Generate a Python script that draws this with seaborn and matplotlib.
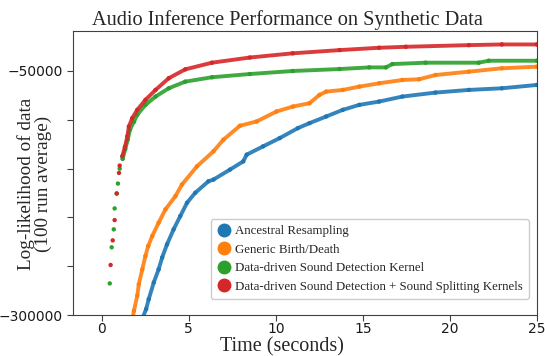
import numpy as np
import pandas as pd
import matplotlib
matplotlib.use("Agg")
import matplotlib.pyplot as plt
import seaborn as sns


# values (time in seconds, log-likelihood)
anc_t = [1.75, 2.55, 2.70, 2.99, 3.27, 3.47, 3.75, 4.13, 4.51, 4.90, 5.37, 6.13, 6.42,
         7.37, 8.13, 8.33, 9.27, 10.23, 11.27, 11.94, 12.90, 13.85, 14.80, 15.94,
         17.27, 19.18, 21.09, 22.99, 25.0]
anc_ll = [-330000, -293900, -283700, -266600, -253100, -241100, -227600, -212200,
          -198700, -185000, -174800, -163000, -161200, -151000, -142600, -135700,
          -127200, -118700, -108500, -103400, -96600, -89800, -84700, -81300,
          -76200, -72100, -69400, -67700, -64300]

bd_t = [1.50, 1.85, 2.04, 2.13, 2.33, 2.51, 2.67, 2.90, 3.27, 3.66, 4.23, 4.61, 5.47,
        6.42, 6.99, 7.94, 8.90, 10.04, 10.99, 11.94, 12.51, 12.90, 13.85, 14.80,
        15.94, 17.27, 18.23, 19.18, 21.09, 22.99, 25.0]
bd_ll = [-330000, -295600, -280300, -268400, -253100, -239500, -229300, -219100,
         -205400, -191800, -178300, -166300, -147700, -132300, -120400, -106100,
         -101700, -91500, -86400, -83000, -74500, -71100, -69400, -66000, -62600,
         -59200, -58500, -54100, -50700, -47200, -45600]

sd_t = [0.46, 0.57, 0.69, 0.74, 0.86, 0.93, 1.03, 1.20, 1.35, 1.50, 1.62, 1.85, 2.04,
        2.51, 3.09, 3.85, 4.80, 6.33, 8.51, 10.97, 13.66, 15.37, 16.33, 16.70,
        18.61, 21.66, 22.23, 25.0]
sd_ll = [-267600, -230600, -212200, -190800, -175500, -165300, -150000, -140000,
         -130000, -120000, -110000, -102000, -94900, -84700, -76200, -67700,
         -60900, -56400, -53100, -50000, -48000, -46300, -46300, -42900, -41500,
         -41500, -39500, -39500]

split_t = [0.51, 0.63, 0.74, 0.86, 0.99, 1.03, 1.18, 1.33, 1.47, 1.56, 1.75, 2.04,
           2.51, 3.09, 3.85, 4.80, 6.33, 8.51, 10.97, 13.66, 15.94, 17.47, 21.09,
           22.99, 25.0]
split_ll = [-248700, -223500, -202700, -175500, -154400, -146900, -137400, -127900,
            -117000, -106800, -98300, -89800, -79600, -69400, -57400, -48300, -41500,
            -36200, -31900, -28600, -26200, -25200, -23500, -22800, -22800]

labels = ["Ancestral Resampling", "Generic Birth/Death",
          "Data-driven Sound Detection Kernel",
          "Data-driven Sound Detection + Sound Splitting Kernels"]

frames = []
for name, t, ll in zip(labels, [anc_t, bd_t, sd_t, split_t],
                       [anc_ll, bd_ll, sd_ll, split_ll]):
    frames.append(pd.DataFrame({"time": t, "ll": ll, "method": name}))
df = pd.concat(frames, ignore_index=True)

sns.set_style("ticks")
plt.rcParams["font.family"] = ["DejaVu Sans"]
serif = ["Liberation Serif", "DejaVu Serif"]
palette = dict(zip(labels, sns.color_palette("tab10", 4)))

fig, ax = plt.subplots(figsize=(5.45, 3.56), dpi=100)
fig.subplots_adjust(left=0.134, right=0.985, top=0.913, bottom=0.115)

# the early samples show as single dots; later ones merge into a thick line
dense_from = {labels[0]: 0, labels[1]: 0, labels[2]: 1.1, labels[3]: 1.1}
for name in labels:
    sub = df[df["method"] == name]
    sub = sub[sub["time"] >= dense_from[name]]
    sns.lineplot(data=sub, x="time", y="ll", ax=ax, color=palette[name],
                 linewidth=2.8, alpha=0.9, legend=False)
sns.scatterplot(data=df, x="time", y="ll", hue="method", palette=palette,
                ax=ax, s=10, linewidth=0, legend=False)

ax.set_xlim(-1.65, 25)
ax.set_ylim(-300000, -9000)
ax.set_xticks([0, 5, 10, 15, 20, 25])
yt = np.arange(-300000, -49999, 50000)
ax.set_yticks(yt)
ax.set_yticklabels(["\u2212300000", "", "", "", "", "\u221250000"])
ax.tick_params(labelsize=10, length=4, colors="0.25", labelcolor="0.1")
ax.tick_params(axis="x", pad=1)
for sp in ax.spines.values():
    sp.set_color("0.25")

ax.set_title("Audio Inference Performance on Synthetic Data",
             family=serif, fontsize=14.6, pad=4, x=0.463)
ax.set_xlabel("Time (seconds)", family=serif, fontsize=14.5, labelpad=0)
ax.xaxis.set_label_coords(0.45, -0.078)
ax.set_ylabel("Log-likelihood of data\n(100 run average)", family=serif,
              fontsize=13.8, linespacing=1.0)
ax.yaxis.set_label_coords(-0.045, 0.463)

handles = [plt.Line2D([], [], marker="o", linestyle="", markersize=9,
                      color=palette[n]) for n in labels]
ax.legend(handles, labels, loc="lower right", prop={"family": serif, "size": 9.3},
          handletextpad=0.25, borderpad=0.45, labelspacing=0.5, handlelength=1.2,
          bbox_to_anchor=(0.997, 0.035), framealpha=1)

plt.savefig("out.png", dpi=100)
